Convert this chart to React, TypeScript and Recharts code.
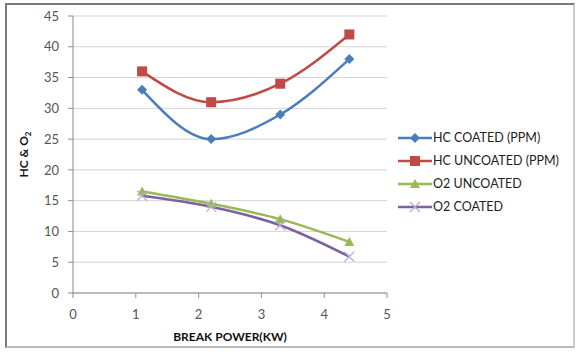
import React from 'react';
import { LineChart, Line, XAxis, YAxis, CartesianGrid, Label } from 'recharts';

const power = [1.1, 2.2, 3.3, 4.4];
const hcCoated = [33, 25, 29, 38];
const hcUncoated = [36, 31, 34, 42];
const o2Uncoated = [16.5, 14.5, 12, 8.3];
const o2Coated = [15.8, 14, 11, 5.9];
const xTicks = [0, 1, 2, 3, 4, 5];
const yTicks = [0, 5, 10, 15, 20, 25, 30, 35, 40, 45];

const data = power.map((p, i) => ({
    power: p,
    hcCoated: hcCoated[i],
    hcUncoated: hcUncoated[i],
    o2Uncoated: o2Uncoated[i],
    o2Coated: o2Coated[i],
}));

const series = [
    { key: 'hcCoated', name: 'HC COATED (PPM)', color: '#4A7EBB', shape: 'diamond' },
    { key: 'hcUncoated', name: 'HC UNCOATED (PPM)', color: '#BE4B48', shape: 'square' },
    { key: 'o2Uncoated', name: 'O2 UNCOATED', color: '#98B954', shape: 'triangle' },
    { key: 'o2Coated', name: 'O2 COATED', color: '#7D60A0', shape: 'cross' },
];

const FONT = 'Lato, "Open Sans", sans-serif';

const Marker = ({ cx, cy, shape, color }: any) => {
    if (cx == null || cy == null) return null;
    switch (shape) {
        case 'diamond':
            return <path d={`M${cx},${cy - 5} L${cx + 5},${cy} L${cx},${cy + 5} L${cx - 5},${cy} Z`} fill={color} />;
        case 'square':
            return <rect x={cx - 5} y={cy - 5} width={10} height={10} fill={color} />;
        case 'triangle':
            return <path d={`M${cx},${cy - 5} L${cx + 5},${cy + 4} L${cx - 5},${cy + 4} Z`} fill={color} />;
        default:
            return (
                <g stroke="#B9A8D6" strokeWidth={1.2}>
                    <line x1={cx - 5} y1={cy - 5} x2={cx + 5} y2={cy + 5} />
                    <line x1={cx - 5} y1={cy + 5} x2={cx + 5} y2={cy - 5} />
                </g>
            );
    }
};

const ChartLegend = () => (
    <div style={{ position: 'absolute', left: 398, top: 126, fontFamily: FONT, fontSize: 12.5, color: '#222' }}>
        {series.map((s) => (
            <div key={s.key} style={{ display: 'flex', alignItems: 'center', height: 23 }}>
                <svg width={34} height={12}>
                    <line x1={0} y1={6} x2={34} y2={6} stroke={s.color} strokeWidth={2.5} />
                    <Marker cx={17} cy={6} shape={s.shape} color={s.color} />
                </svg>
                <span style={{ marginLeft: 1 }}>{s.name}</span>
            </div>
        ))}
    </div>
);

const YLabel = ({ viewBox }: any) => {
    const x = 28;
    const y = viewBox.y + viewBox.height / 2;
    return (
        <text x={x} y={y} transform={`rotate(-90, ${x}, ${y})`} textAnchor="middle" fontFamily={FONT} fontSize={12} fontWeight="bold" fill="#111">
            HC &amp; O<tspan fontSize={8} dy={3}>2</tspan>
        </text>
    );
};

const XLabel = ({ viewBox }: any) => (
    <text x={viewBox.x + viewBox.width / 2} y={341} textAnchor="middle" fontFamily={FONT} fontSize={12} fontWeight="bold" fill="#111">
        BREAK POWER(KW)
    </text>
);

const App: React.FC = () => {
    return (
        <div style={{ position: 'absolute', left: 0, top: 0, width: 579, height: 352, background: '#fff' }}>
            <div style={{ position: 'absolute', left: 5, top: 3, width: 566, height: 341, border: '2px solid #7a7a7a', borderRightColor: '#ccc', borderBottomColor: '#bbb' }} />
            <div style={{ position: 'absolute', left: 0, top: 0 }}>
                <LineChart width={579} height={352} data={data} margin={{ top: 16, right: 192, bottom: 19, left: 33 }}>
                    <CartesianGrid vertical={false} stroke="#d4d4d4" />
                    <XAxis
                        dataKey="power"
                        type="number"
                        domain={[0, 5]}
                        ticks={xTicks}
                        height={40}
                        stroke="#8c8c8c"
                        tickSize={5}
                        tickMargin={12}
                        tick={{ fill: '#555', fontSize: 13, fontFamily: FONT }}
                    >
                        <Label content={<XLabel />} />
                    </XAxis>
                    <YAxis
                        type="number"
                        domain={[0, 45]}
                        ticks={yTicks}
                        interval={0}
                        width={40}
                        stroke="#8c8c8c"
                        tickSize={5}
                        tickMargin={9}
                        tick={{ fill: '#555', fontSize: 13, fontFamily: FONT }}
                    >
                        <Label content={<YLabel />} />
                    </YAxis>
                    {series.map((s) => (
                        <Line
                            key={s.key}
                            type="monotone"
                            dataKey={s.key}
                            name={s.name}
                            stroke={s.color}
                            strokeWidth={2.5}
                            dot={(p: any) => <Marker key={`${s.key}-${p.index}`} cx={p.cx} cy={p.cy} shape={s.shape} color={s.color} />}
                            activeDot={false}
                            isAnimationActive={false}
                        />
                    ))}
                </LineChart>
            </div>
            <ChartLegend />
        </div>
    );
};

export default App;
